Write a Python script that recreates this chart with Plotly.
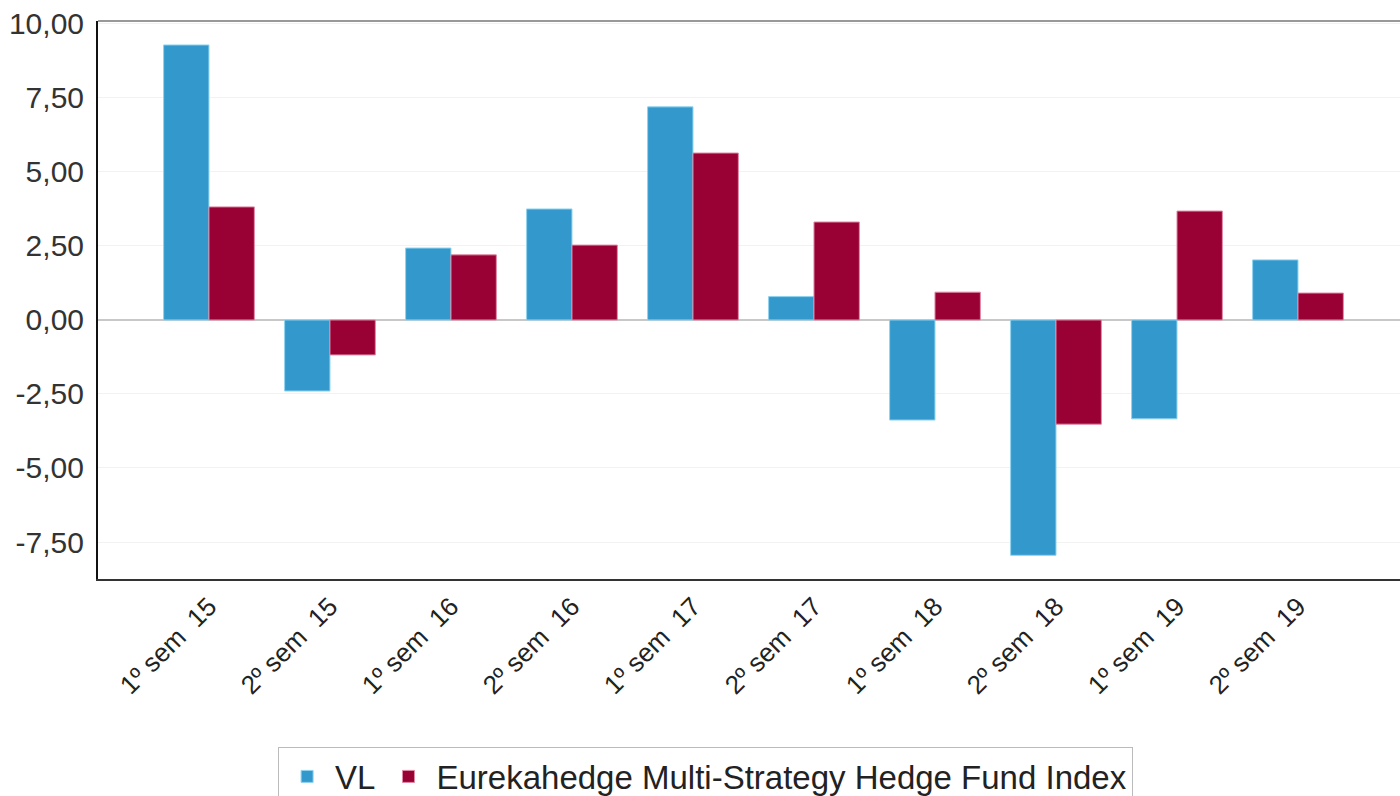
import plotly.graph_objects as go

categories = ["1º sem\u00a0\u00a015", "2º sem\u00a0\u00a015", "1º sem\u00a0\u00a016", "2º sem\u00a0\u00a016",
              "1º sem\u00a0\u00a017", "2º sem\u00a0\u00a017", "1º sem\u00a0\u00a018", "2º sem\u00a0\u00a018",
              "1º sem\u00a0\u00a019", "2º sem\u00a0\u00a019"]
vl = [9.29, -2.40, 2.43, 3.75, 7.20, 0.79, -3.38, -7.95, -3.34, 2.03]
eureka = [3.82, -1.18, 2.20, 2.53, 5.64, 3.31, 0.94, -3.52, 3.68, 0.91]
y_ticks = [-7.5, -5, -2.5, 0, 2.5, 5, 7.5, 10]
y_tick_labels = ["-7,50", "-5,00", "-2,50", "0,00", "2,50", "5,00", "7,50", "10,00"]

font = "Liberation Sans, Arial, sans-serif"

fig = go.Figure()
fig.add_trace(go.Bar(x=categories, y=vl, name="VL",
                     marker=dict(color="#3399CC", line=dict(color="#8FD3F0", width=1))))
fig.add_trace(go.Bar(x=categories, y=eureka, name="Eurekahedge Multi-Strategy Hedge Fund Index",
                     marker=dict(color="#990033", line=dict(color="#E08AA6", width=1))))

fig.update_layout(
    width=1400, height=796,
    margin=dict(l=98, r=0, t=21, b=217, autoexpand=False),
    paper_bgcolor="white", plot_bgcolor="white",
    barmode="group", bargap=0.25, bargroupgap=0.0,
    font=dict(family=font, size=28, color="#333333"),
    legend=dict(orientation="h", xref="container", yref="container",
                x=0.504, xanchor="center", y=0.061, yanchor="top",
                bordercolor="#BBBBBB", borderwidth=1,
                font=dict(size=33, color="#222222"), itemwidth=46,
                tracegroupgap=0),
    showlegend=True,
)
fig.update_xaxes(range=[-0.917, 9.843], tickangle=-45, showline=True, linecolor="#333333",
                 linewidth=2, showgrid=False, ticks="", automargin=False,
                 tickfont=dict(size=26, color="#222222"))
fig.update_yaxes(range=[-8.75, 10.1], tickvals=y_ticks, ticktext=y_tick_labels,
                 showline=True, linecolor="#111111", linewidth=2, showgrid=True,
                 gridcolor="#F2F2F2", gridwidth=1, zeroline=True, zerolinecolor="#C8C8C8",
                 zerolinewidth=2, ticks="", automargin=False, ticklabelstandoff=6,
                 tickfont=dict(size=30, color="#333333"))
fig.add_shape(type="line", xref="paper", yref="paper", x0=0, x1=1, y0=1, y1=1,
              line=dict(color="#999999", width=2))

fig.write_html("out.html", config={"displayModeBar": False},
               post_script="document.body.style.margin='0';document.body.style.overflow='hidden';")
